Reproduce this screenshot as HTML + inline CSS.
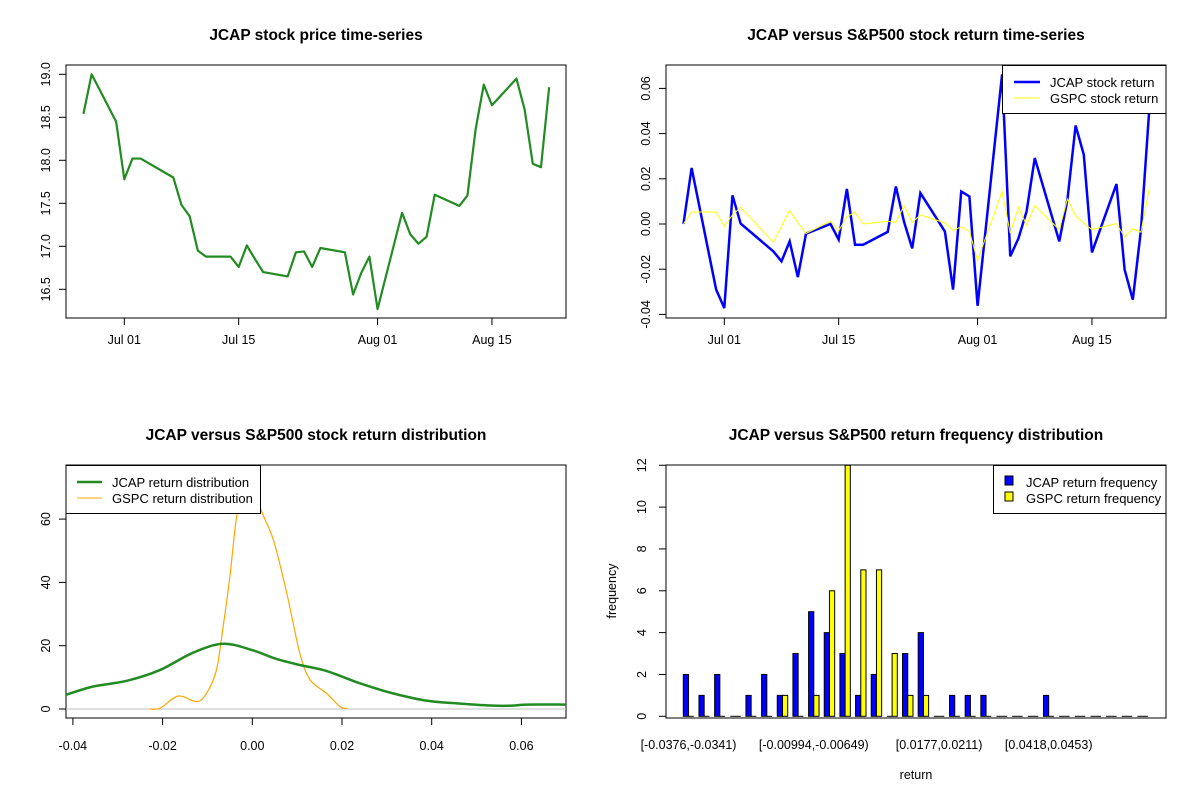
<!DOCTYPE html>
<html><head><meta charset="utf-8"><style>
body{margin:0;background:#fff}
svg{display:block;font-family:"Liberation Sans",Arial,sans-serif}
</style></head><body>
<svg id="c" width="1200" height="800" viewBox="0 0 1200 800" xmlns="http://www.w3.org/2000/svg">
<defs>
<clipPath id="cp1"><rect x="66" y="65" width="500" height="253"/></clipPath>
<clipPath id="cp2"><rect x="666" y="65" width="500" height="253"/></clipPath>
<clipPath id="cp3"><rect x="66" y="465" width="500" height="253"/></clipPath>
</defs>
<g id="g1"></g>
<g id="g2"></g>
<g id="g3"></g>
<g id="g4"></g>
</svg>
<script>
// ---- data ----
const days = [-5,-4,-1,0,1,2,6,7,8,9,10,13,14,15,16,17,20,21,22,23,24,27,28,29,30,31,34,35,36,37,38,41,42,43,44,45,48,49,50,51,52];
const prices = [18.54,19.00,18.45,17.78,18.02,18.02,17.80,17.48,17.35,16.95,16.88,16.88,16.76,17.01,16.85,16.70,16.65,16.93,16.94,16.76,16.98,16.93,16.44,16.69,16.88,16.27,17.39,17.14,17.03,17.11,17.60,17.47,17.59,18.36,18.88,18.64,18.95,18.59,17.96,17.92,18.85];
const jcapRet = [0,0.0248,-0.029,-0.0372,0.0127,0.0002,-0.0121,-0.0165,-0.0077,-0.0235,-0.0043,0,-0.0069,0.0155,-0.0092,-0.0092,-0.0035,0.0166,0.001,-0.0108,0.0137,-0.0033,-0.029,0.0144,0.0122,-0.0362,0.0662,-0.0143,-0.0064,0.0056,0.0292,-0.0077,0.0108,0.0436,0.0307,-0.0126,0.0177,-0.0202,-0.0335,-0.0025,0.0498];
const gspcRet = [0,0.0053,0.0053,-0.0011,0.004,0.0074,-0.0081,-0.001,0.006,0.0005,-0.0042,0.0012,-0.003,0.0032,0.0053,0,0.0012,0.0007,0.0081,0.0007,0.004,0.0005,-0.0028,-0.0013,-0.0033,-0.0161,0.0144,-0.004,0.0075,-0.0005,0.0081,-0.0025,0.0111,0.0036,0.0004,-0.0025,0.0002,-0.0057,-0.0021,-0.0036,0.0154];
const dateTicks = [0,14,31,45];
const dateLabels = ["Jul 01","Jul 15","Aug 01","Aug 15"];
const priceTicks = [16.5,17.0,17.5,18.0,18.5,19.0];
const retTicks = [-0.04,-0.02,0,0.02,0.04,0.06];
const jDensX = [-0.0417,-0.0355,-0.028,-0.0206,-0.0132,-0.0065,0,0.0054,0.0106,0.0166,0.024,0.0315,0.039,0.0464,0.0538,0.058,0.061,0.07];
const jDensY = [4.4,7.1,8.9,12.3,17.8,20.6,18.6,15.8,13.9,12.0,8.1,4.9,2.6,1.7,1.05,1.05,1.4,1.4];
const gDensX = [-0.0228,-0.0205,-0.0165,-0.0124,-0.0102,-0.008,-0.0065,-0.005,-0.0035,-0.0015,0,0.0017,0.0047,0.0077,0.0106,0.0129,0.0166,0.0196,0.0212];
const gDensY = [0,0.3,4.1,2.3,5,12.3,26,41.8,60.7,74,76,64,53.4,36.5,17.6,9.2,4.9,0.7,0.2];
const densXTicks = [-0.04,-0.02,0,0.02,0.04,0.06];
const densYTicks = [0,20,40,60];
const jcapFreq = [2,1,2,0,1,2,1,3,5,4,3,1,2,0,3,4,0,1,1,1,0,0,0,1,0,0,0,0,0,0];
const gspcFreq = [0,0,0,0,0,0,1,0,1,6,12,7,7,3,1,1,0,0,0,0,0,0,0,0,0,0,0,0,0,0];
const binLabelIdx = [0,8,16,23];
const binLabels = ["[-0.0376,-0.0341)","[-0.00994,-0.00649)","[0.0177,0.0211)","[0.0418,0.0453)"];
const freqTicks = [0,2,4,6,8,10,12];

const NS="http://www.w3.org/2000/svg";
function mk(p,tag,at,txt){const e=document.createElementNS(NS,tag);for(const k in at)e.setAttribute(k,at[k]);if(txt!==undefined)e.textContent=txt;p.appendChild(e);return e;}
const g1=document.getElementById('g1'),g2=document.getElementById('g2'),g3=document.getElementById('g3'),g4=document.getElementById('g4');

function frame(g,x,y,w,h,title,name){
  let r=mk(g,'rect',{x:x,y:y,width:w,height:h,fill:'none',stroke:'#000','stroke-width':1});
  
  
  let t=mk(g,'text',{x:x+w/2,y:40,'text-anchor':'middle','font-size':'15.5','font-weight':'bold'},title);
  if(y>400)t.setAttribute('y',440);
  
  
}
function xtick(g,x,y0,label,ly){mk(g,'line',{x1:x,x2:x,y1:y0,y2:y0+7,stroke:'#000'});let t=mk(g,'text',{x:x,y:ly,'text-anchor':'middle','font-size':'12.5'},label);}
function ytick(g,x0,y,label,lx){mk(g,'line',{x1:x0-7,x2:x0,y1:y,y2:y,stroke:'#000'});let t=mk(g,'text',{x:lx,y:y,'text-anchor':'middle','font-size':'12.5',transform:`rotate(-90 ${lx} ${y})`},label);}

// panel 1
const dx=d=>124.3+d*8.17;
const py=p=>74.3+(19-p)*86;
frame(g1,66,65,500,253,'JCAP stock price time-series','price');
dateTicks.forEach((d,i)=>xtick(g1,dx(d),318,dateLabels[i],344));
priceTicks.forEach(p=>ytick(g1,66,py(p),p.toFixed(1),50));
let l1=mk(g1,'polyline',{points:days.map((d,i)=>dx(d)+','+py(prices[i])).join(' '),fill:'none',stroke:'#228B22','stroke-width':2.2,'clip-path':'url(#cp1)','stroke-linejoin':'round'});



// panel 2
const dx2=d=>dx(d)+600;
const ry=r=>224-r*2260;
frame(g2,666,65,500,253,'JCAP versus S&P500 stock return time-series','return');
dateTicks.forEach((d,i)=>xtick(g2,dx2(d),318,dateLabels[i],344));
retTicks.forEach(r=>ytick(g2,666,ry(r),r.toFixed(2),650));
let l2=mk(g2,'polyline',{points:days.map((d,i)=>dx2(d)+','+ry(jcapRet[i])).join(' '),fill:'none',stroke:'#0000FF','stroke-width':2.5,'clip-path':'url(#cp2)'});


let l3=mk(g2,'polyline',{points:days.map((d,i)=>dx2(d)+','+ry(gspcRet[i])).join(' '),fill:'none',stroke:'#FFFF00','stroke-width':1,'clip-path':'url(#cp2)'});


let lg2=mk(g2,'g',{});


mk(lg2,'rect',{x:1002.5,y:65.5,width:163.5,height:48,fill:'#fff',stroke:'#000'});
mk(lg2,'line',{x1:1014,x2:1040,y1:82,y2:82,stroke:'#0000FF','stroke-width':2.5});
mk(lg2,'text',{x:1050,y:87,'font-size':'13'},'JCAP stock return');
mk(lg2,'line',{x1:1014,x2:1040,y1:98,y2:98,stroke:'#FFFF00','stroke-width':1});
mk(lg2,'text',{x:1050,y:103,'font-size':'13'},'GSPC stock return');

// panel 3
const xd=v=>252.3+v*4485;
const yd=v=>709-v*3.165;
frame(g3,66,465,500,253,'JCAP versus S&P500 stock return distribution','density');
densXTicks.forEach(v=>xtick(g3,xd(v),718,v.toFixed(2),750));
densYTicks.forEach(v=>ytick(g3,66,yd(v),String(v),50));
mk(g3,'line',{x1:66,x2:566,y1:709,y2:709,stroke:'#BEBEBE'});
function smooth(xs,ys){let pts=xs.map((v,i)=>[xd(v),yd(ys[i])]);let d='M'+pts[0].join(',');for(let i=0;i<pts.length-1;i++){const p0=pts[Math.max(0,i-1)],p1=pts[i],p2=pts[i+1],p3=pts[Math.min(pts.length-1,i+2)];const c1=[p1[0]+(p2[0]-p0[0])/6,p1[1]+(p2[1]-p0[1])/6],c2=[p2[0]-(p3[0]-p1[0])/6,p2[1]-(p3[1]-p1[1])/6];d+=` C${c1.join(',')} ${c2.join(',')} ${p2.join(',')}`;}return d;}
let d1=mk(g3,'path',{d:smooth(gDensX,gDensY),fill:'none',stroke:'#FFA500','stroke-width':1.2,'clip-path':'url(#cp3)'});


let d2=mk(g3,'path',{d:smooth(jDensX,jDensY),fill:'none',stroke:'#228B22','stroke-width':2.5,'clip-path':'url(#cp3)'});


let lg3=mk(g3,'g',{});


mk(lg3,'rect',{x:66,y:465.5,width:194.5,height:48,fill:'#fff',stroke:'#000'});
mk(lg3,'line',{x1:77,x2:102,y1:482,y2:482,stroke:'#228B22','stroke-width':2.5});
mk(lg3,'text',{x:112,y:487,'font-size':'13'},'JCAP return distribution');
mk(lg3,'line',{x1:77,x2:102,y1:498,y2:498,stroke:'#FFA500','stroke-width':1});
mk(lg3,'text',{x:112,y:503,'font-size':'13'},'GSPC return distribution');

// panel 4
const bx=g=>683.3+g*15.66;
const fy=v=>716.3-v*20.92;
const bw=5.22;
frame(g4,666,465,500,253,'JCAP versus S&P500 return frequency distribution','histogram');
freqTicks.forEach(v=>ytick(g4,666,fy(v),String(v),646));
binLabelIdx.forEach((gi,i)=>{let t=mk(g4,'text',{x:bx(gi)+bw,y:749,'text-anchor':'middle','font-size':'12.5'},binLabels[i]);});
let xt=mk(g4,'text',{x:916,y:779,'text-anchor':'middle','font-size':'12.5'},'return');


let yt=mk(g4,'text',{x:616,y:591,'text-anchor':'middle','font-size':'12.5',transform:'rotate(-90 616 591)'},'frequency');


function bar(x,v,col,name){
  if(v===0){let e=mk(g4,'line',{x1:x,x2:x+bw,y1:fy(0),y2:fy(0),stroke:'#000'});return;}
  let e=mk(g4,'rect',{x:x,y:fy(v),width:bw,height:fy(0)-fy(v),fill:col,stroke:'#000','stroke-width':1});
  
  
}
jcapFreq.forEach((v,i)=>bar(bx(i),v,'#0000FF','jcap-freq-bar'));
gspcFreq.forEach((v,i)=>bar(bx(i)+bw,v,'#FFFF00','gspc-freq-bar'));
let lg4=mk(g4,'g',{});


mk(lg4,'rect',{x:993.5,y:465.5,width:172.5,height:48,fill:'#fff',stroke:'#000'});
mk(lg4,'rect',{x:1005,y:476,width:8,height:9,fill:'#0000FF',stroke:'#000'});
mk(lg4,'text',{x:1026,y:487,'font-size':'13'},'JCAP return frequency');
mk(lg4,'rect',{x:1005,y:492,width:8,height:9,fill:'#FFFF00',stroke:'#000'});
mk(lg4,'text',{x:1026,y:503,'font-size':'13'},'GSPC return frequency');
</script>
</body></html>
